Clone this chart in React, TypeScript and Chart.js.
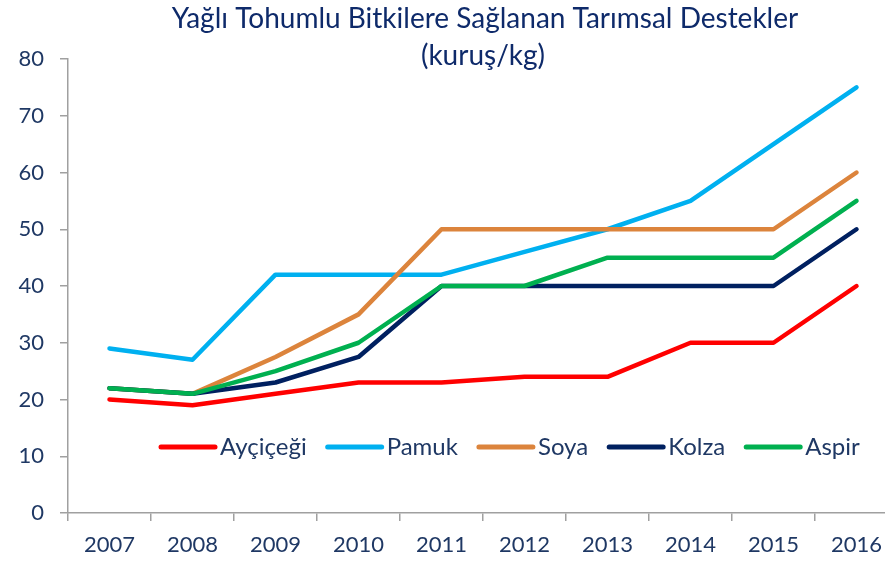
import React, { useEffect, useRef } from "react";
import { Chart, registerables } from "chart.js";

Chart.register(...registerables);

const years = ["2007", "2008", "2009", "2010", "2011", "2012", "2013", "2014", "2015", "2016"];
const aycicegi = [20, 19, 21, 23, 23, 24, 24, 30, 30, 40];
const pamuk = [29, 27, 42, 42, 42, 46, 50, 55, 65, 75];
const soya = [22, 21, 27.5, 35, 50, 50, 50, 50, 50, 60];
const kolza = [22, 21, 23, 27.5, 40, 40, 40, 40, 40, 50];
const aspir = [22, 21, 25, 30, 40, 40, 45, 45, 45, 55];
const seriesNames = ["Ayçiçeği", "Pamuk", "Soya", "Kolza", "Aspir"];
const seriesColors = ["#FF0000", "#00B0F0", "#DC843C", "#002060", "#00B050"];
const titleLines = ["Yağlı Tohumlu Bitkilere Sağlanan Tarımsal Destekler", "(kuruş/kg)"];

const TEXT = "#1F3864";
const TITLE = "#0E2A6A";
const FONT = "Lato, 'Open Sans', sans-serif";

const overlayPlugin = {
  id: "overlay",
  afterDraw(chart: any) {
    const ctx = chart.ctx;
    ctx.save();
    // title
    ctx.fillStyle = TITLE;
    ctx.font = `28px ${FONT}`;
    ctx.textAlign = "center";
    ctx.textBaseline = "middle";
    ctx.fillText(titleLines[0], 485, 19);
    ctx.fillText(titleLines[1], 483, 56);
    // legend
    ctx.font = `24px ${FONT}`;
    ctx.textAlign = "left";
    let x = 161;
    const y = 447;
    chart.data.datasets.forEach((ds: any) => {
      ctx.strokeStyle = ds.borderColor;
      ctx.lineWidth = 5;
      ctx.lineCap = "round";
      ctx.beginPath();
      ctx.moveTo(x, y);
      ctx.lineTo(x + 54, y);
      ctx.stroke();
      x += 59;
      ctx.fillStyle = TEXT;
      ctx.fillText(ds.label, x, y);
      x += ctx.measureText(ds.label).width + 21;
    });
    ctx.restore();
  },
};

export default function App() {
  const ref = useRef<HTMLCanvasElement>(null);
  useEffect(() => {
    document.body.style.margin = "0";
    document.body.style.overflow = "hidden";
    const values = [aycicegi, pamuk, soya, kolza, aspir];
    const chart = new Chart(ref.current!, {
      type: "line",
      data: {
        labels: years,
        datasets: values.map((v, i) => ({
          label: seriesNames[i],
          data: v,
          borderColor: seriesColors[i],
          backgroundColor: seriesColors[i],
          borderWidth: 4.5,
          pointRadius: 0,
          tension: 0,
          borderCapStyle: "round" as const,
          borderJoinStyle: "round" as const,
          order: 4 - i,
        })),
      },
      options: {
        responsive: false,
        animation: false,
        layout: { padding: { top: 59, right: 2, left: 0, bottom: 0 } },
        plugins: {
          legend: { display: false },
          title: { display: false },
          tooltip: { enabled: false },
        },
        scales: {
          x: {
            offset: true,
            grid: {
              offset: true,
              drawOnChartArea: false,
              drawTicks: true,
              tickLength: 8,
              color: "#A0A0A0",
              lineWidth: 1.5,
            },
            border: { color: "#A0A0A0", width: 1.5 },
            ticks: { color: TEXT, font: { family: FONT, size: 22 }, padding: 11, maxRotation: 0 },
            afterFit: (s: any) => { s.height = 50; },
          },
          y: {
            min: 0,
            max: 80,
            ticks: { stepSize: 10, color: TEXT, font: { family: FONT, size: 22 }, padding: 16 },
            grid: {
              drawOnChartArea: false,
              drawTicks: true,
              tickLength: 8,
              color: "#A0A0A0",
              lineWidth: 1.5,
            },
            border: { color: "#A0A0A0", width: 1.5 },
            afterFit: (s: any) => { s.width = 68; },
          },
        },
      },
      plugins: [overlayPlugin],
    });
    return () => chart.destroy();
  }, []);
  return (
    <div style={{ width: 900, height: 563, overflow: "hidden" }}>
      <canvas ref={ref} width={900} height={563} />
    </div>
  );
}
